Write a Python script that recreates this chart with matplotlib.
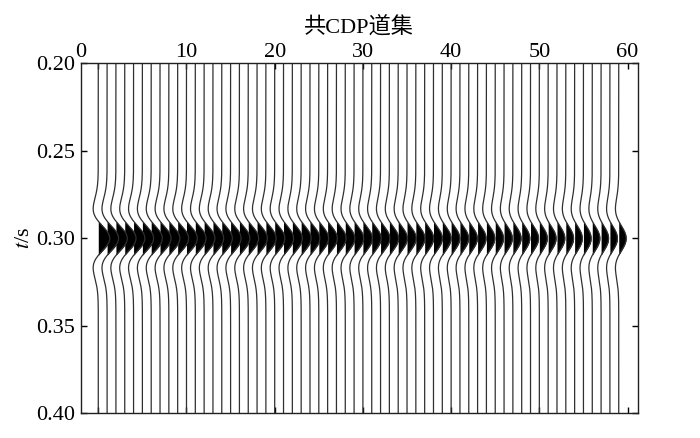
import numpy as np
import matplotlib
matplotlib.use("Agg")
import matplotlib.pyplot as plt

# trace positions (trace number on the gather axis)
trace_pos = list(range(0, 60))
# peak amplitude of each trace, in trace-spacing units
trace_amp = [
    1.30, 1.30, 1.29, 1.28, 1.28, 1.27, 1.26, 1.25, 1.25, 1.24,
    1.23, 1.22, 1.22, 1.21, 1.20, 1.19, 1.18, 1.18, 1.17, 1.16,
    1.15, 1.14, 1.13, 1.13, 1.12, 1.11, 1.10, 1.09, 1.08, 1.08,
    1.07, 1.06, 1.05, 1.04, 1.03, 1.03, 1.02, 1.01, 1.00, 0.99,
    0.98, 0.98, 0.97, 0.96, 0.95, 0.94, 0.94, 0.93, 0.92, 0.91,
    0.90, 0.90, 0.89, 0.88, 0.87, 0.87, 0.86, 0.85, 0.85, 0.84,
]
t0 = 0.30       # event time (s)
f_peak = 23.0   # Ricker peak frequency (Hz)
x_ticks = [0, 10, 20, 30, 40, 50, 60]
y_ticks = [0.20, 0.25, 0.30, 0.35, 0.40]

plt.rcParams["font.family"] = ["Liberation Serif", "Noto Sans CJK SC"]
plt.rcParams["mathtext.fontset"] = "stix"

fig = plt.figure(figsize=(7, 4.38), dpi=100)
ax = fig.add_axes([0.1157, 0.0564, 0.911 - 0.1157, 0.8555 - 0.0564])

t = np.arange(0.20, 0.4001, 0.0005)
arg = (np.pi * f_peak * (t - t0)) ** 2
wav = (1 - 2 * arg) * np.exp(-arg)

for x0, a in zip(trace_pos, trace_amp):
    x = x0 + a * wav
    ax.fill_betweenx(t, x0, x, where=wav > 0, color="black", linewidth=0)
    ax.plot(x, t, color="#303030", linewidth=0.9)

ax.set_xlim(-1.96, 61.15)
ax.set_ylim(0.40, 0.20)

# top axis labels; the "0" sits at the left edge as in the original
ax.xaxis.tick_top()
ax.set_xticks(x_ticks)
ax.set_xticklabels([""] + [str(v) for v in x_ticks[1:]])
ax.set_xticks([-1.96], minor=True)
ax.set_xticklabels(["0"], minor=True)
ax.tick_params(axis="x", which="minor", length=0, pad=1, labelsize=16)
ax.tick_params(axis="x", which="major", direction="in", top=True, bottom=True,
               length=4, width=1, pad=1, labelsize=16)
ax.set_yticks(y_ticks)
ax.set_yticklabels([f"{v:.2f}" for v in y_ticks])
ax.tick_params(axis="y", direction="in", left=True, right=True,
               length=4, width=1, pad=4, labelsize=16)

for s in ax.spines.values():
    s.set_linewidth(1.0)
    s.set_color("#202020")

ax.set_ylabel(r"$t$/s", fontsize=16, labelpad=2)
ax.set_title("共CDP道集", fontsize=16, pad=22)

fig.savefig("out.png", dpi=100)
